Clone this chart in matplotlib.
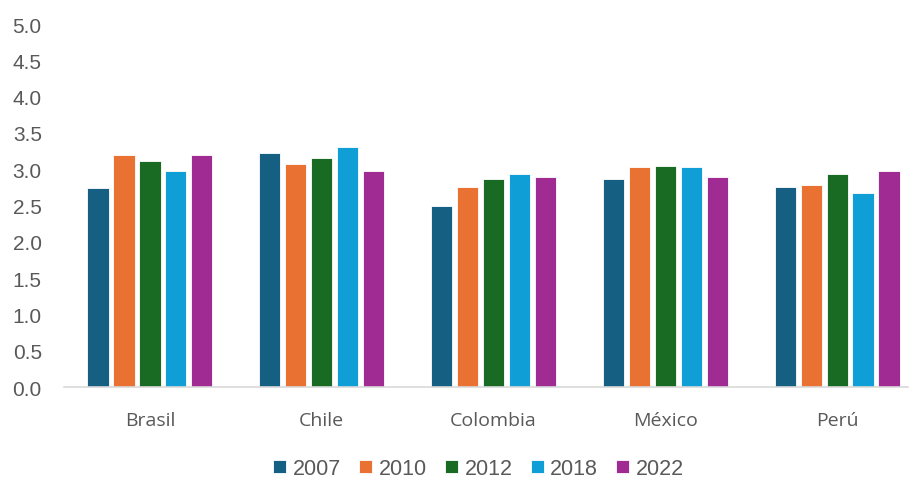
import matplotlib
matplotlib.use("Agg")
import matplotlib.pyplot as plt
import numpy as np

categories = ["Brasil", "Chile", "Colombia", "México", "Perú"]
years = ["2007", "2010", "2012", "2018", "2022"]
v2007 = [2.74, 3.23, 2.49, 2.86, 2.75]
v2010 = [3.20, 3.07, 2.75, 3.03, 2.79]
v2012 = [3.12, 3.15, 2.86, 3.05, 2.93]
v2018 = [2.98, 3.30, 2.93, 3.03, 2.68]
v2022 = [3.20, 2.98, 2.89, 2.89, 2.98]
series = [v2007, v2010, v2012, v2018, v2022]
colors = ["#156082", "#E97132", "#196B24", "#0F9ED5", "#A02B93"]
yticks = [0.0, 0.5, 1.0, 1.5, 2.0, 2.5, 3.0, 3.5, 4.0, 4.5, 5.0]

plt.rcParams['font.family'] = ['Liberation Sans', 'DejaVu Sans']
fig = plt.figure(figsize=(9.14, 4.81), dpi=100)
ax = fig.add_axes([0.070, 0.193, 0.923, 0.755])

x = np.arange(len(categories))
step = 0.151
width = 0.124
for i, (vals, yr, c) in enumerate(zip(series, years, colors)):
    ax.bar(x + (i - 2) * step, vals, width, color=c, label=yr,
           edgecolor="white", linewidth=0.6)

ax.set_xlim(-0.5, 4.41)
ax.set_ylim(0, 5.0)
ax.set_yticks(yticks)
ax.set_yticklabels([f"{t:.1f}" for t in yticks], fontsize=15)
ax.set_xticks(x)
ax.set_xticklabels(categories, fontsize=14, family=['Open Sans', 'DejaVu Sans'])
ax.tick_params(axis='both', length=0, labelcolor="#595959")
ax.tick_params(axis='x', pad=17)
ax.tick_params(axis='y', pad=16)
for s in ["top", "right", "left"]:
    ax.spines[s].set_visible(False)
ax.spines["bottom"].set_color("#D9D9D9")
ax.spines["bottom"].set_linewidth(1.2)

leg = fig.legend(loc="center", bbox_to_anchor=(0.5236, 0.024), ncol=5, frameon=False,
                 fontsize=15.5, handlelength=0.6, handleheight=0.6, handletextpad=0.3,
                 columnspacing=0.85, labelcolor="#595959", borderpad=0.2)

fig.savefig("out.png", dpi=100)
